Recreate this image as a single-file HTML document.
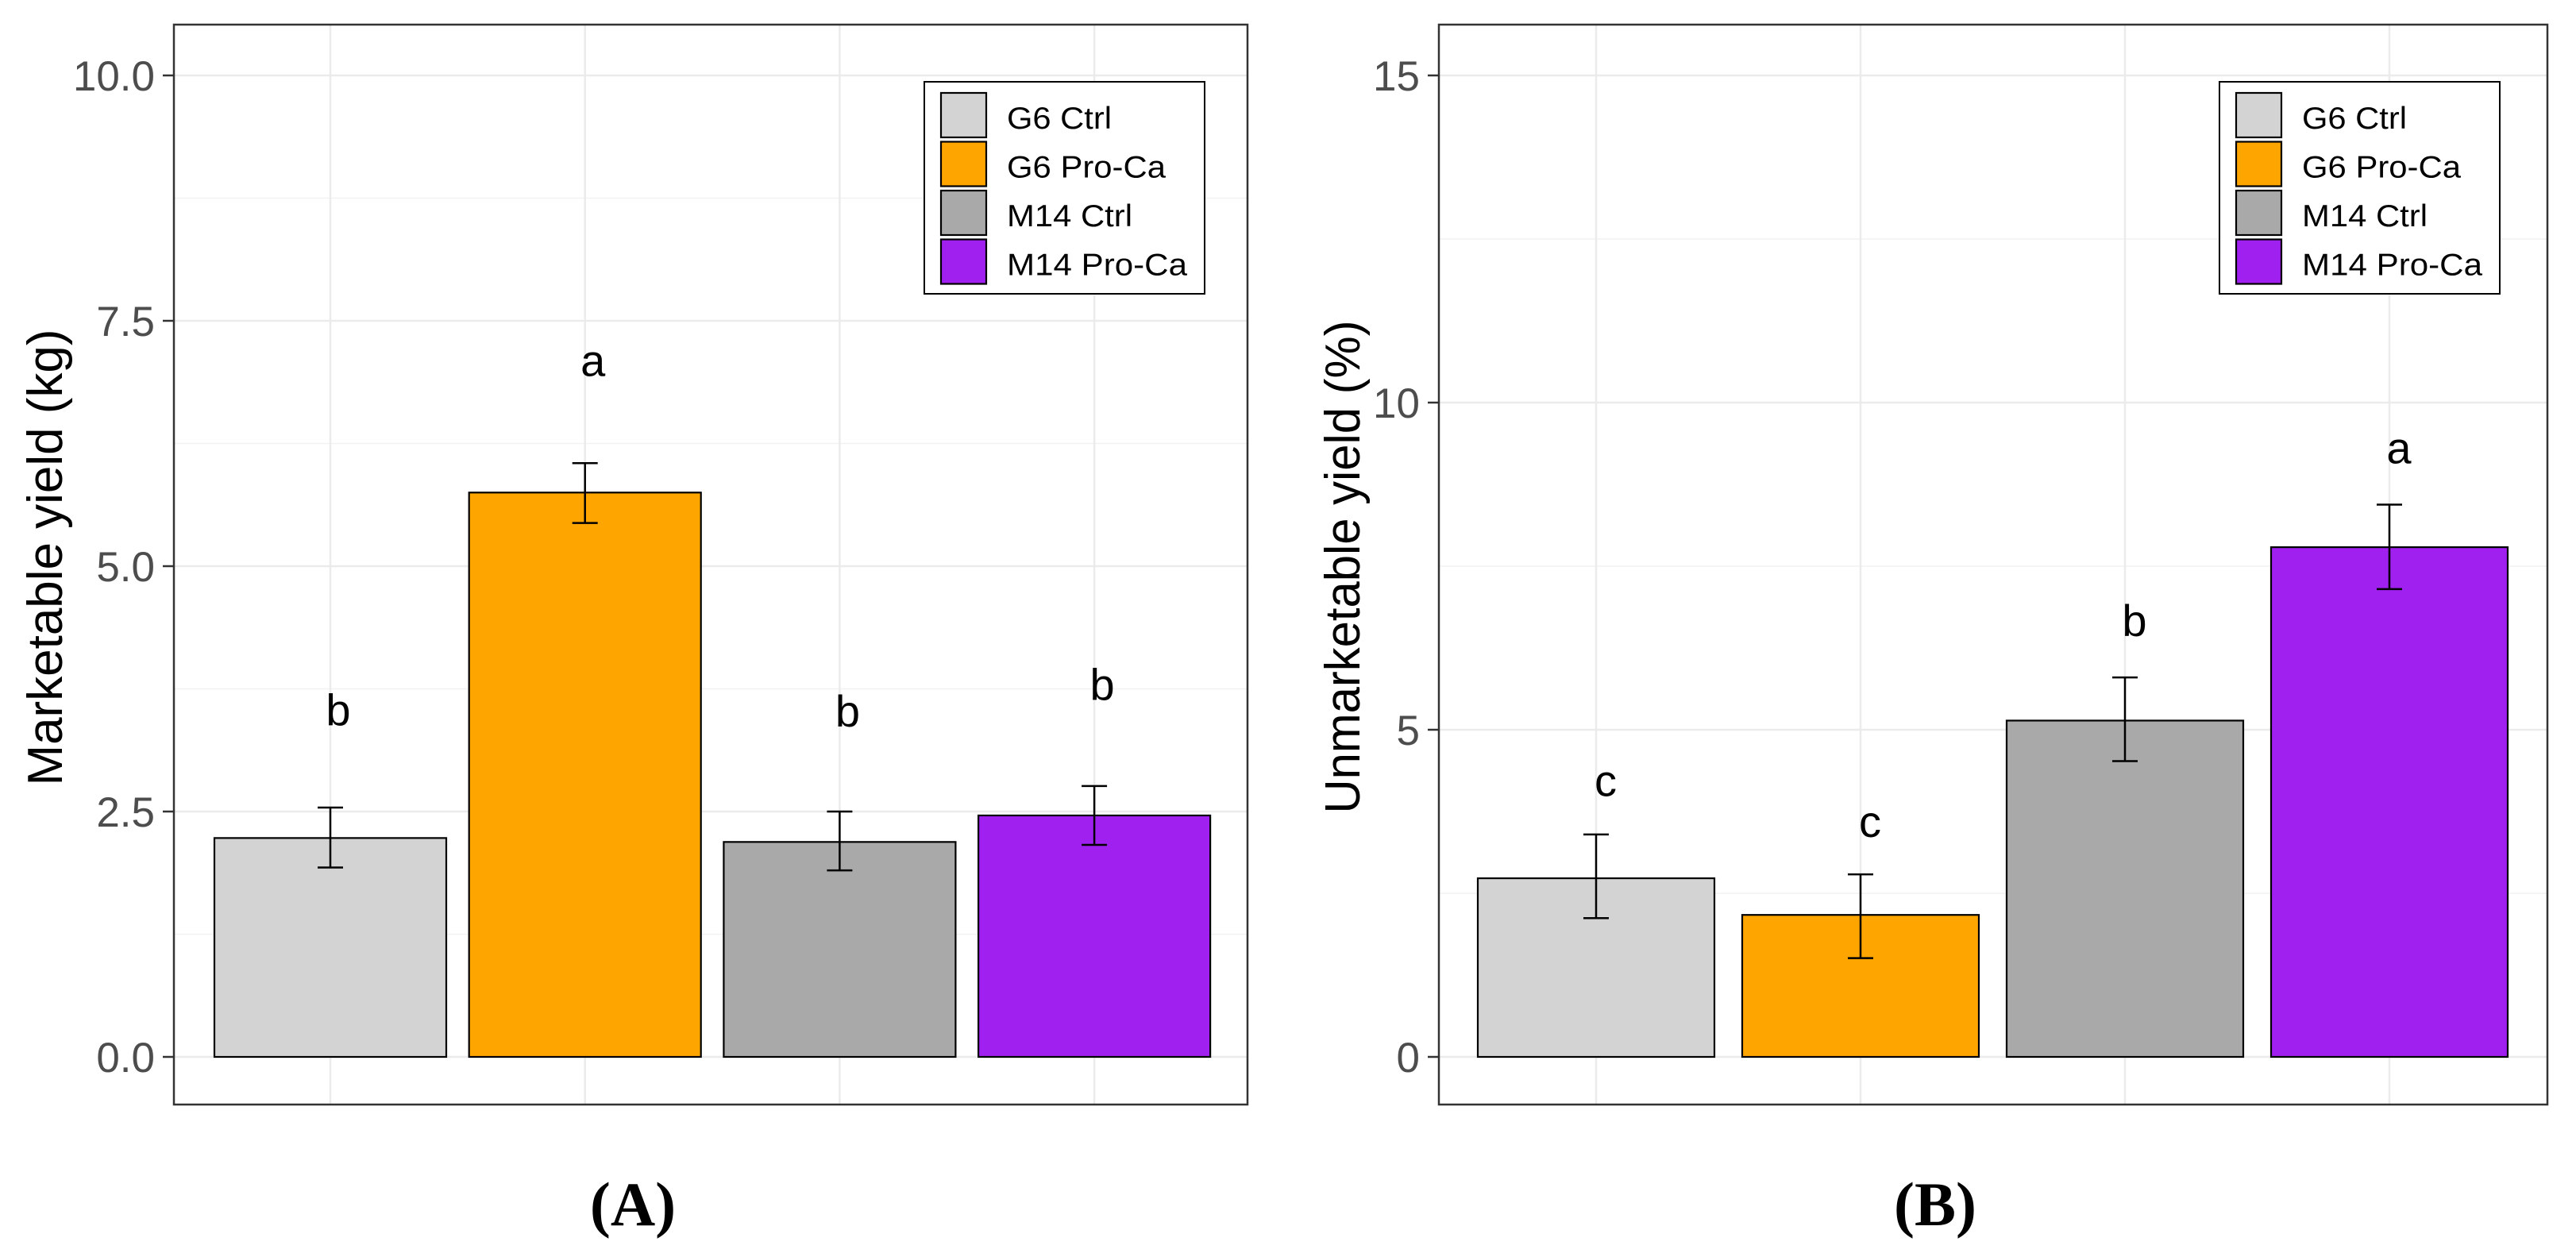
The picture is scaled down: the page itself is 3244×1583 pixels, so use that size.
<!DOCTYPE html>
<html><head><meta charset="utf-8"><style>
html,body{margin:0;padding:0;background:#fff;}
svg{display:block;font-family:"Liberation Sans",Arial,sans-serif;}
</style></head><body>
<svg id="chart" width="3244" height="1583" viewBox="0 0 3244 1583" xmlns="http://www.w3.org/2000/svg"></svg>
<script>
const categories = ["G6 Ctrl","G6 Pro-Ca","M14 Ctrl","M14 Pro-Ca"];
const colors = ["#d3d3d3","#ffa500","#a9a9a9","#a020f0"];
const valuesA = [2.23,5.75,2.19,2.46];
const errHiA = [2.54,6.05,2.50,2.76];
const errLoA = [1.93,5.44,1.90,2.16];
const lettersA = ["b","a","b","b"];
const letterYA = [3.53,7.09,3.52,3.79];
const ticksA = [0,2.5,5,7.5,10];
const tickLabelsA = ["0.0","2.5","5.0","7.5","10.0"];
const valuesB = [2.73,2.17,5.14,7.79];
const errHiB = [3.40,2.79,5.80,8.44];
const errLoB = [2.12,1.51,4.52,7.15];
const lettersB = ["c","c","b","a"];
const letterYB = [4.22,3.59,6.66,9.30];
const ticksB = [0,5,10,15];
const tickLabelsB = ["0","5","10","15"];
const legendWidths = [132,200,158,227];

const NS="http://www.w3.org/2000/svg";
const svg=document.getElementById('chart');
function el(tag,attrs,parent,text){const e=document.createElementNS(NS,tag);for(const k in attrs)e.setAttribute(k,attrs[k]);if(text!==undefined)e.textContent=text;(parent||svg).appendChild(e);return e;}

function panel(cfg){
  const g=el('g',{});
  
  
  const {L,R,T,B,y0,yTop,vTop,x0,dx,bw}=cfg;
  const ys=v=>y0-(v/vTop)*(y0-yTop);
  const xs=i=>x0+i*dx;
  const step=cfg.ticks[1]-cfg.ticks[0];
  for(let i=-1;i<cfg.ticks.length;i++){
    const y=ys(cfg.ticks[0]+step*(i+0.5));
    if(y>T&&y<B){const l=el('line',{x1:L,x2:R,y1:y,y2:y,stroke:'#f2f2f2','stroke-width':1.5},g);
    
    }
  }
  cfg.ticks.forEach((t,i)=>{
    const y=ys(t);
    const l=el('line',{x1:L,x2:R,y1:y,y2:y,stroke:'#ebebeb','stroke-width':2.5},g);
    
    
    const tk=el('line',{x1:L-14,x2:L,y1:y,y2:y,stroke:'#333','stroke-width':2.5},g);
    
    
    const tx=el('text',{x:L-24,y:y+19,'text-anchor':'end','font-size':53,fill:'#4d4d4d'},g,cfg.tickLabels[i]);
    
    
  });
  categories.forEach((c,i)=>{
    const l=el('line',{x1:xs(i),x2:xs(i),y1:T,y2:B,stroke:'#ebebeb','stroke-width':2.5},g);
    
    
  });
  categories.forEach((c,i)=>{
    const x=xs(i),v=cfg.values[i];
    const r=el('rect',{x:x-bw/2,y:ys(v),width:bw,height:ys(0)-ys(v),fill:colors[i],stroke:'#000','stroke-width':2.2},g);
    
    
    const eg=el('g',{stroke:'#000','stroke-width':2.5},g);
    
    
    const yh=ys(cfg.hi[i]),yl=ys(cfg.lo[i]);
    el('line',{x1:x,x2:x,y1:yh,y2:yl},eg);
    el('line',{x1:x-16,x2:x+16,y1:yh,y2:yh},eg);
    el('line',{x1:x-16,x2:x+16,y1:yl,y2:yl},eg);
    const t=el('text',{x:x+cfg.letterDx,y:ys(cfg.letterY[i])+19,'text-anchor':'middle','font-size':56,fill:'#000'},g,cfg.letters[i]);
    
    
  });
  const bx=el('rect',{x:L,y:T,width:R-L,height:B-T,fill:'none',stroke:'#333','stroke-width':2.5},g);
  
  
  const yt=el('text',{x:0,y:0,transform:`translate(${cfg.titleX},${cfg.titleY}) rotate(-90)`,'text-anchor':'middle','font-size':62,fill:'#000',textLength:cfg.titleLen,lengthAdjust:'spacingAndGlyphs'},g,cfg.title);
  
  
  const lg=el('g',{},g);
  
  
  el('rect',{x:cfg.legX,y:103,width:353,height:267,fill:'#fff',stroke:'#000','stroke-width':2},lg);
  categories.forEach((c,i)=>{
    const ky=117+i*61.5;
    const k=el('rect',{x:cfg.legX+21,y:ky,width:57,height:56,fill:colors[i],stroke:'#000','stroke-width':2.2},lg);
    
    
    const t=el('text',{x:cfg.legX+104,y:ky+45,'font-size':39,fill:'#000',textLength:legendWidths[i],lengthAdjust:'spacingAndGlyphs'},lg,c);
    
    
  });
  const cap=el('text',{x:cfg.capX,y:1543,'text-anchor':'middle','font-size':78,'font-weight':'bold','font-family':'"Liberation Serif",serif',fill:'#000'},g,cfg.caption);
  
  
}
panel({name:'panel-a',L:219,R:1571,T:31,B:1391,y0:1331,yTop:95,vTop:10,x0:416,dx:320.7,bw:292,
  ticks:ticksA,tickLabels:tickLabelsA,values:valuesA,hi:errHiA,lo:errLoA,letters:lettersA,letterY:letterYA,letterDx:10,
  title:'Marketable yield (kg)',titleX:78,titleY:702,titleLen:575,legX:1164,capX:797,caption:'(A)'});
panel({name:'panel-b',L:1812,R:3208,T:31,B:1391,y0:1331,yTop:95,vTop:15,x0:2010,dx:333,bw:298,
  ticks:ticksB,tickLabels:tickLabelsB,values:valuesB,hi:errHiB,lo:errLoB,letters:lettersB,letterY:letterYB,letterDx:12,
  title:'Unmarketable yield (%)',titleX:1712,titleY:714,titleLen:621,legX:2795,capX:2437,caption:'(B)'});
</script>
</body></html>
